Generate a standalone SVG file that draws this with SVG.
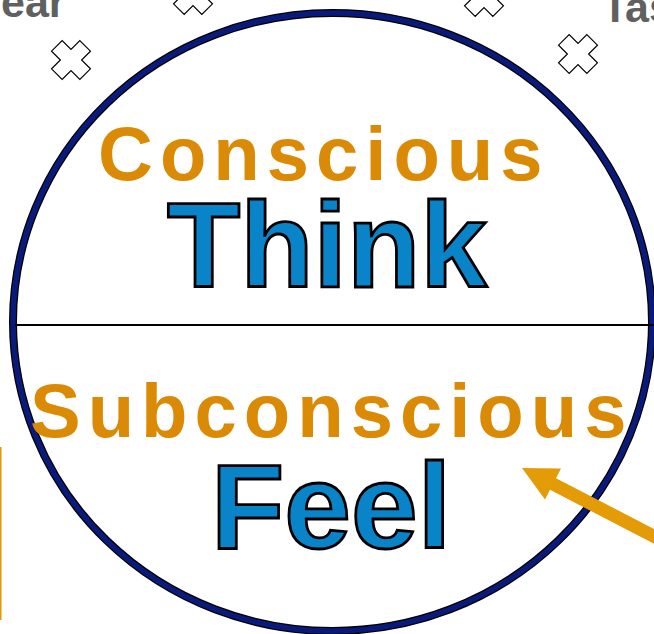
<svg xmlns="http://www.w3.org/2000/svg" width="654" height="634" viewBox="0 0 654 634">
  <style>
    .lbl { font-family: "Liberation Sans", Arial, sans-serif; font-weight: bold; }
    .orange { fill: #db8a06; font-size: 76px; letter-spacing: 7px; }
    .blue { fill: #0a84c8; stroke: #000; stroke-width: 2.8px; font-size: 120px; text-anchor: middle; }
    .gray { fill: #606060; font-size: 43px; }
    .cross { fill: #fff; stroke: #000; stroke-width: 1.2; }
  </style>
  <defs>
    <path id="x" d="M-7.5,-20 H7.5 V-7.5 H20 V7.5 H7.5 V20 H-7.5 V7.5 H-20 V-7.5 H-7.5 Z" transform="rotate(45)"/>
  </defs>

  <g id="side-labels">
    <text class="lbl gray" x="1" y="17">ear</text>
    <text class="lbl gray" x="602" y="22">Tas</text>
  </g>

  <g id="crosses">
    <use href="#x" class="cross" transform="translate(71,60)"/>
    <use href="#x" class="cross" transform="translate(193,-5)"/>
    <use href="#x" class="cross" transform="translate(484,-3)"/>
    <use href="#x" class="cross" transform="translate(578,54)"/>
  </g>

  <g id="mind-circle">
    <ellipse cx="332.5" cy="322" rx="319.5" ry="309" fill="#fff" stroke="#000" stroke-width="8"/>
    <ellipse cx="332.5" cy="322" rx="319.5" ry="309" fill="none" stroke="#0a1a7a" stroke-width="5.5"/>
    <line x1="15" y1="325" x2="654" y2="325" stroke="#000" stroke-width="2"/>
  </g>

  <g id="conscious">
    <text class="lbl orange" x="98" y="180">Conscious</text>
    <text class="lbl blue" x="327" y="287">Think</text>
  </g>

  <g id="subconscious">
    <text class="lbl orange" x="30" y="437">Subconscious</text>
    <text class="lbl blue" x="331" y="548">Feel</text>
  </g>

  <g id="connectors">
    <line x1="0" y1="447" x2="0" y2="620" stroke="#e09a00" stroke-width="3"/>
    <polygon points="522,468 561,468.5 556,478.2 673,538.8 667,550.4 550,489.8 545,499.5" fill="#e39c05"/>
  </g>
</svg>
